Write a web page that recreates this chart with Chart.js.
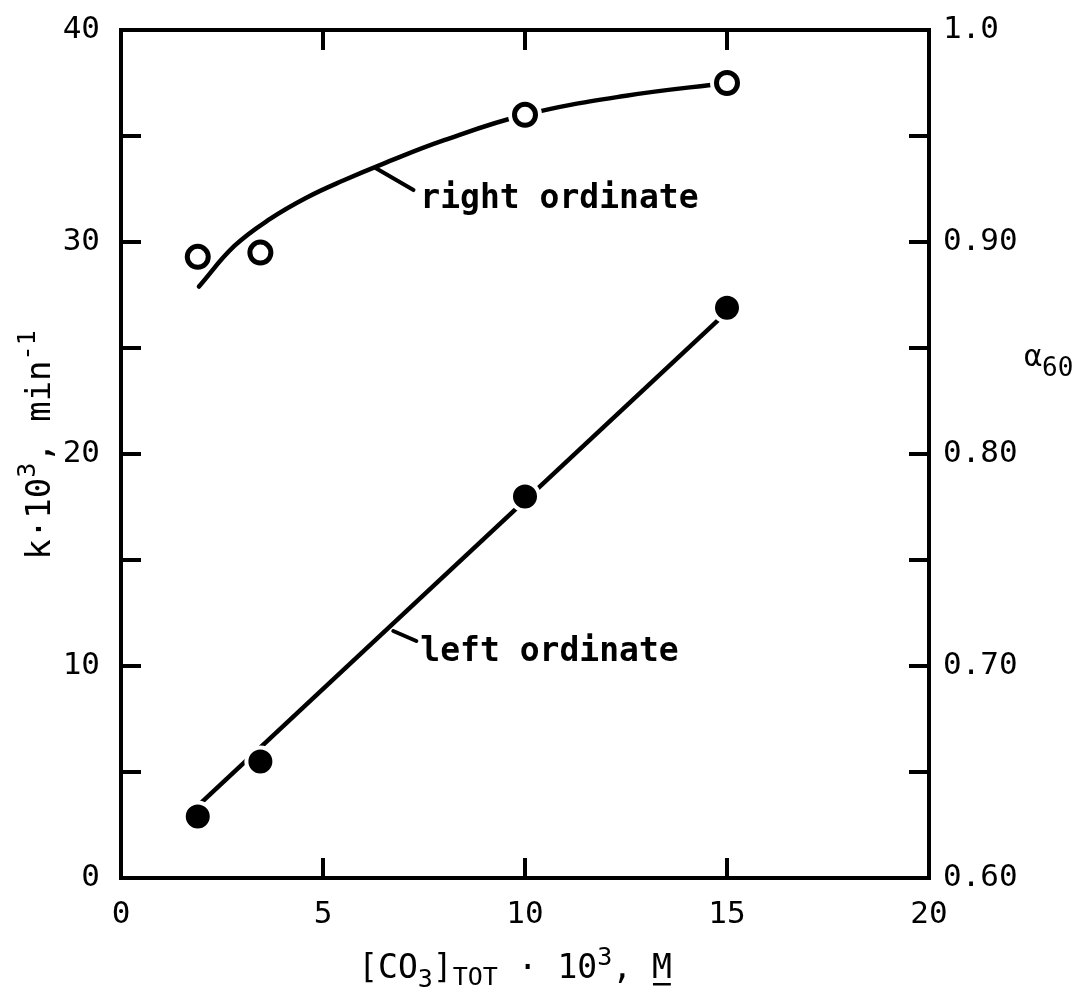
<!DOCTYPE html>
<html>
<head>
<meta charset="utf-8">
<script src="https://cdn.jsdelivr.net/npm/chart.js@4.4.1/dist/chart.umd.min.js"></script>
<style>
  html, body { margin: 0; padding: 0; background: #fff; }
  canvas { display: block; }
</style>
</head>
<body>
<canvas id="myChart" width="1084" height="997"></canvas>
<script>
// valores
const carbonato = [1.9, 3.45, 10.0, 15.0];        // [CO3]TOT * 10^3, M
const constanteK = [2.9, 5.5, 18.0, 26.9];        // k * 10^3, min-1 (eje izquierdo)
const alfa60 = [0.893, 0.895, 0.960, 0.975];      // alfa60 (eje derecho)

// recta de ajuste (eje izquierdo)
const ajusteKX = [1.9, 15.0];
const ajusteKY = [3.4, 26.7];

// curva trazada a mano (eje derecho)
const ajusteAlfaX = [1.93, 2.8, 3.7, 4.6, 5.5, 6.5, 8.0, 10.0, 12.5, 15.0];
const ajusteAlfaY = [0.879, 0.898, 0.911, 0.921, 0.929, 0.937, 0.948, 0.960, 0.969, 0.975];

const ticksX = [0, 5, 10, 15, 20];

const FONT = "'DejaVu Sans Mono', monospace";

function puntos(xs, ys) {
  return xs.map((x, i) => ({ x: x, y: ys[i] }));
}

// dibuja texto con sub/superindices, segmento por segmento
function textoRico(ctx, partes, x, y, align) {
  let total = 0;
  partes.forEach(p => {
    ctx.font = (p.bold ? 'bold ' : '') + p.size + 'px ' + FONT;
    p.w = ctx.measureText(p.t).width;
    total += p.w;
  });
  let cx = align === 'center' ? x - total / 2 : x;
  partes.forEach(p => {
    ctx.font = (p.bold ? 'bold ' : '') + p.size + 'px ' + FONT;
    ctx.fillText(p.t, cx, y + (p.dy || 0));
    if (p.under) {
      ctx.fillRect(cx + 1, y + 5, p.w - 2, 2.5);
    }
    cx += p.w;
  });
}

const textos = {
  id: 'textos',
  afterDraw(chart) {
    const ctx = chart.ctx;
    const sx = chart.scales.x, sy = chart.scales.y, sy2 = chart.scales.y2;
    ctx.save();
    ctx.fillStyle = '#000';
    ctx.strokeStyle = '#000';
    ctx.lineWidth = 4;
    ctx.lineCap = 'round';
    ctx.textBaseline = 'alphabetic';
    ctx.textAlign = 'left';

    // "right ordinate"
    ctx.beginPath();
    ctx.moveTo(sx.getPixelForValue(6.29), sy2.getPixelForValue(0.935));
    ctx.lineTo(sx.getPixelForValue(7.24), sy2.getPixelForValue(0.9245));
    ctx.stroke();
    ctx.font = 'bold 33px ' + FONT;
    ctx.fillText('right ordinate', sx.getPixelForValue(7.41), sy2.getPixelForValue(0.916));

    // "left ordinate"
    ctx.beginPath();
    ctx.moveTo(sx.getPixelForValue(6.74), sy.getPixelForValue(11.65));
    ctx.lineTo(sx.getPixelForValue(7.31), sy.getPixelForValue(11.18));
    ctx.stroke();
    ctx.fillText('left ordinate', sx.getPixelForValue(7.41), sy.getPixelForValue(10.24));

    // titulo eje x
    textoRico(ctx, [
      { t: '[CO', size: 33 },
      { t: '3', size: 25, dy: 9 },
      { t: ']', size: 33 },
      { t: 'TOT', size: 25, dy: 7 },
      { t: ' · 10', size: 33 },
      { t: '3', size: 25, dy: -13 },
      { t: ', ', size: 33 },
      { t: 'M', size: 33, under: true }
    ], (chart.chartArea.left + chart.chartArea.right) / 2 - 10, 978, 'center');

    // titulo eje izquierdo (vertical)
    ctx.save();
    ctx.translate(50, 445);
    ctx.rotate(-Math.PI / 2);
    textoRico(ctx, [
      { t: 'k·10', size: 34 },
      { t: '3', size: 25, dy: -15 },
      { t: ', min', size: 34 },
      { t: '-1', size: 25, dy: -15 }
    ], 0, 0, 'center');
    ctx.restore();

    // titulo eje derecho
    textoRico(ctx, [
      { t: 'α', size: 30 },
      { t: '60', size: 26, dy: 10 }
    ], 1024, 366, 'left');

    ctx.restore();
  }
};

const ctx = document.getElementById('myChart').getContext('2d');

const ejeComun = {
  type: 'linear',
  border: { display: true, color: '#000', width: 4 },
  grid: { drawOnChartArea: false, drawTicks: true, tickLength: -20, lineWidth: 4, color: '#000' }
};

function fijarAncho(w) {
  return s => { s.width = w; s.paddingTop = 0; s.paddingBottom = 0; };
}
function fijarAlto(h) {
  return s => { s.height = h; s.paddingLeft = 0; s.paddingRight = 0; };
}

let myChart = new Chart(ctx, {
  type: 'scatter',
  data: {
    datasets: [
      {
        label: 'k',
        data: puntos(carbonato, constanteK),
        yAxisID: 'y',
        pointRadius: 14,
        pointBackgroundColor: '#000',
        pointBorderColor: '#fff',
        pointBorderWidth: 4,
        showLine: false,
        order: 0
      },
      {
        label: 'alfa60',
        data: puntos(carbonato, alfa60),
        yAxisID: 'y2',
        pointRadius: 10.5,
        pointBackgroundColor: '#fff',
        pointBorderColor: '#000',
        pointBorderWidth: 5,
        showLine: false,
        order: 0
      },
      {
        label: 'halo',
        data: puntos(carbonato, alfa60),
        yAxisID: 'y2',
        pointRadius: 17,
        pointBackgroundColor: '#fff',
        pointBorderWidth: 0,
        showLine: false,
        order: 1
      },
      {
        label: 'ajuste k',
        data: puntos(ajusteKX, ajusteKY),
        yAxisID: 'y',
        showLine: true,
        borderColor: '#000',
        borderWidth: 4.5,
        pointRadius: 0,
        order: 2
      },
      {
        label: 'ajuste alfa',
        data: puntos(ajusteAlfaX, ajusteAlfaY),
        yAxisID: 'y2',
        showLine: true,
        borderColor: '#000',
        borderWidth: 4.5,
        pointRadius: 0,
        tension: 0.4,
        borderCapStyle: 'round',
        order: 2
      }
    ]
  },
  options: {
    responsive: false,
    animation: false,
    devicePixelRatio: 1,
    layout: { padding: 0 },
    plugins: { legend: { display: false }, tooltip: { enabled: false } },
    scales: {
      x: {
        ...ejeComun,
        position: 'bottom',
        min: 0, max: 20,
        afterBuildTicks: s => { s.ticks = ticksX.map(v => ({ value: v })); },
        ticks: { padding: 38, color: '#000', font: { family: FONT, size: 31 } },
        afterFit: fijarAlto(119)
      },
      x2: {
        ...ejeComun,
        axis: 'x',
        position: 'top',
        min: 0, max: 20,
        afterBuildTicks: s => { s.ticks = ticksX.map(v => ({ value: v })); },
        ticks: { display: false },
        afterFit: fijarAlto(30)
      },
      y: {
        ...ejeComun,
        position: 'left',
        min: 0, max: 40,
        ticks: {
          stepSize: 5, padding: 41, color: '#000',
          font: { family: FONT, size: 31 },
          callback: v => (v % 10 === 0 ? String(v) : '')
        },
        afterFit: fijarAncho(121)
      },
      y2: {
        ...ejeComun,
        position: 'right',
        min: 0.6, max: 1.0,
        ticks: {
          stepSize: 0.05, padding: 34, color: '#000',
          font: { family: FONT, size: 31 },
          callback: v => {
            const n = Math.round(v * 100);
            if (n % 10 !== 0) return '';
            return n === 100 ? '1.0' : (n / 100).toFixed(2);
          }
        },
        afterFit: fijarAncho(155)
      }
    }
  },
  plugins: [textos]
});
</script>
</body>
</html>
